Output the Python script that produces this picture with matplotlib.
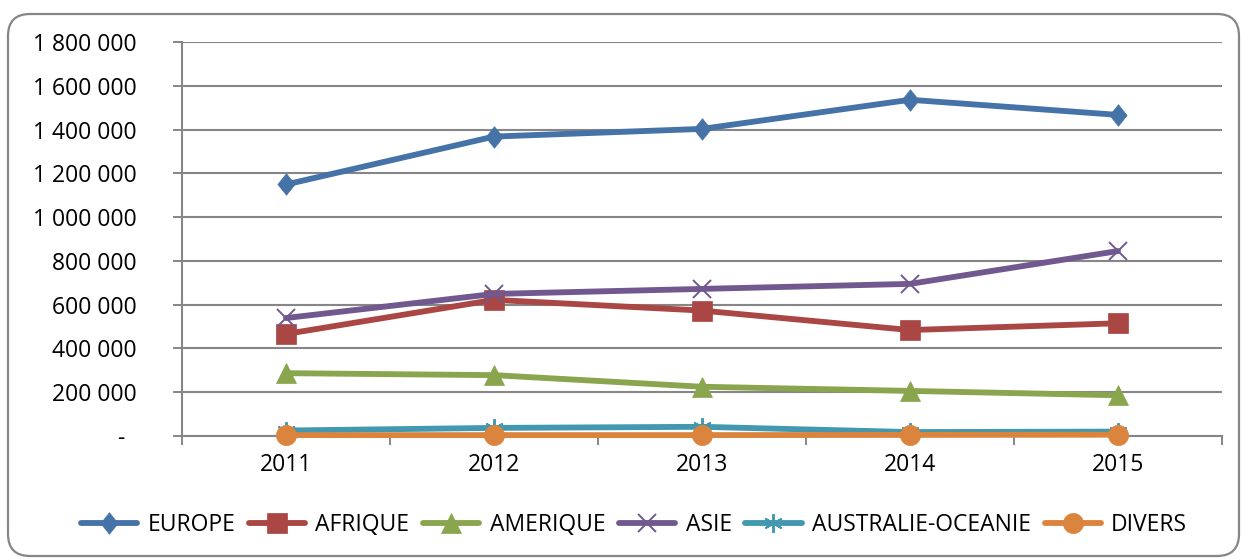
import matplotlib
matplotlib.use("Agg")
import matplotlib.pyplot as plt
from matplotlib.patches import FancyBboxPatch
from matplotlib.transforms import IdentityTransform
from matplotlib.ticker import FuncFormatter, MultipleLocator, FixedLocator

plt.rcParams['font.family'] = ['Open Sans', 'DejaVu Sans']

years = ["2011", "2012", "2013", "2014", "2015"]
europe = [1149000, 1368000, 1403000, 1536000, 1467000]
afrique = [466000, 622000, 573000, 484000, 515000]
amerique = [287000, 278000, 225000, 206000, 186000]
asie = [539000, 649000, 672000, 695000, 845000]
australie = [25000, 37000, 42000, 18000, 20000]
divers = [4000, 4000, 4000, 5000, 6000]

series_names = ["EUROPE", "AFRIQUE", "AMERIQUE", "ASIE", "AUSTRALIE-OCEANIE", "DIVERS"]
series_values = [europe, afrique, amerique, asie, australie, divers]
colors = ["#4572A7", "#AA4643", "#89A54E", "#71588F", "#4198AF", "#DB843D"]
tall_diamond = [(0, 1), (0.8, 0), (0, -1), (-0.8, 0), (0, 1)]
markers = [tall_diamond, "s", "^", "x", (6, 2, 0), "o"]
msizes = [15.5, 14.5, 15, 13.5, 13.5, 14.5]

W, H, DPI = 1241, 559, 100
fig = plt.figure(figsize=(W / DPI, H / DPI), dpi=DPI)

# rounded border
border = FancyBboxPatch((8, 3), 1231, 542, boxstyle="round,pad=0,rounding_size=22",
                        transform=IdentityTransform(), fill=False,
                        edgecolor="#868686", linewidth=1.6)
fig.patches.append(border)

ax = fig.add_axes([182 / W, 1 - 436 / H, (1222 - 182) / W, (436 - 42) / H])
x = list(range(len(years)))
for name, vals, c, m, ms in zip(series_names, series_values, colors, markers, msizes):
    thin = (m == "x") or isinstance(m, tuple)
    ax.plot(x, vals, color=c, linewidth=4.2, marker=m, markersize=ms,
            markeredgewidth=1.4 if thin else 0.5, markerfacecolor=c,
            markeredgecolor=c, label=name, solid_capstyle="round", zorder=3,
            clip_on=False)

ax.set_xlim(-0.5, len(years) - 0.5)
ax.set_ylim(0, 1800000)
ax.yaxis.set_major_locator(MultipleLocator(200000))

def yfmt(v, pos):
    if abs(v) < 1:
        return "-  "
    return f"{int(round(v)):,}".replace(",", " ")

FS = 16.5
ax.yaxis.set_major_formatter(FuncFormatter(yfmt))
ax.set_xticks(x)
ax.set_xticklabels(years)
ax.xaxis.set_minor_locator(FixedLocator([i - 0.5 for i in range(len(years) + 1)]))
ax.tick_params(axis="x", which="major", length=0, pad=12, labelsize=FS)
ax.tick_params(axis="x", which="minor", length=6.5, width=1.4, color="#868686", direction="out")
ax.tick_params(axis="y", which="major", length=6.5, width=1.4, color="#868686", direction="out",
               pad=26, labelsize=FS)

ax.grid(axis="y", color="#868686", linewidth=1.5, zorder=0)
ax.set_axisbelow(True)
for s in ("top", "right"):
    ax.spines[s].set_visible(False)
for s in ("left", "bottom"):
    ax.spines[s].set_color("#868686")
    ax.spines[s].set_linewidth(1.5)

fig.legend(loc="center", bbox_to_anchor=(634 / W, 1 - 525 / H), ncol=6, frameon=False,
           fontsize=FS, handlelength=2.45, handletextpad=0.45, columnspacing=0.6)

fig.savefig("out.png", dpi=DPI)
